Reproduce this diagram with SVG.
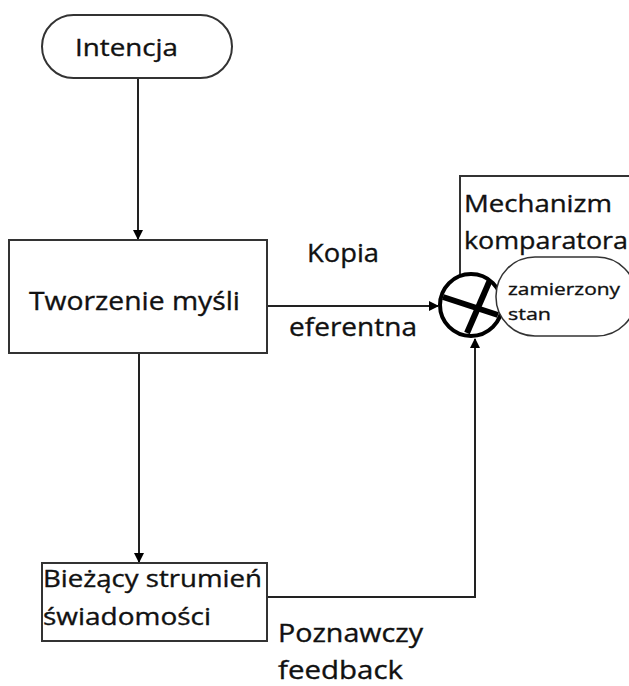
<svg xmlns="http://www.w3.org/2000/svg" width="629" height="686" viewBox="0 0 629 686">
<defs>
<style>
.t{font-family:"Open Sans","Liberation Sans",sans-serif;fill:#111;stroke:#111;stroke-width:0.35;}
.box{fill:#fff;stroke:#333;stroke-width:2;}
.ln{fill:none;stroke:#222;stroke-width:2;}
</style>
<marker id="ah" viewBox="0 0 10 10" refX="9" refY="5" markerWidth="10" markerHeight="10" markerUnits="userSpaceOnUse" orient="auto">
<path d="M0,0 L10,5 L0,10 z" fill="#000"/>
</marker>
</defs>
<rect width="629" height="686" fill="#fff"/>
<g id="connectors">
<line class="ln" x1="138" y1="79" x2="138" y2="239" marker-end="url(#ah)"/>
<line class="ln" x1="139" y1="353" x2="139" y2="562" marker-end="url(#ah)"/>
<line class="ln" x1="267" y1="306" x2="438" y2="306" marker-end="url(#ah)"/>
<polyline class="ln" points="267,597 475,597 475,339" marker-end="url(#ah)"/>
</g>
<g id="intencja">
<rect class="box" x="42" y="15" width="190" height="63" rx="31.5"/>
<text class="t" x="75" y="56" font-size="24" textLength="103" lengthAdjust="spacingAndGlyphs">Intencja</text>
</g>
<g id="tworzenie">
<rect class="box" x="9" y="240" width="258" height="113"/>
<text class="t" x="29" y="310" font-size="26" textLength="211" lengthAdjust="spacingAndGlyphs">Tworzenie myśli</text>
</g>
<g id="kopia-label">
<text class="t" x="307" y="262" font-size="26" textLength="72" lengthAdjust="spacingAndGlyphs">Kopia</text>
<text class="t" x="289" y="336" font-size="26" textLength="128" lengthAdjust="spacingAndGlyphs">eferentna</text>
</g>
<g id="mechanizm">
<rect class="box" x="460" y="176" width="200" height="120"/>
<text class="t" x="464" y="212" font-size="24" textLength="148" lengthAdjust="spacingAndGlyphs">Mechanizm</text>
<text class="t" x="464" y="249" font-size="24" textLength="164" lengthAdjust="spacingAndGlyphs">komparatora</text>
</g>
<g id="komparator">
<circle cx="471" cy="305" r="31" fill="#fff" stroke="#000" stroke-width="4"/>
<line x1="490" y1="280" x2="467" y2="333" stroke="#000" stroke-width="6"/>
<line x1="443" y1="297" x2="498" y2="315" stroke="#000" stroke-width="6"/>
</g>
<g id="zamierzony">
<rect x="496" y="257" width="140" height="79" rx="39" fill="#fff" stroke="#333" stroke-width="1.5"/>
<text class="t" x="508" y="295" font-size="17" textLength="112" lengthAdjust="spacingAndGlyphs">zamierzony</text>
<text class="t" x="508" y="320" font-size="17" textLength="43" lengthAdjust="spacingAndGlyphs">stan</text>
</g>
<g id="biezacy">
<rect class="box" x="42" y="563" width="225" height="78"/>
<text class="t" x="43" y="587" font-size="23" textLength="219" lengthAdjust="spacingAndGlyphs">Bieżący strumień</text>
<text class="t" x="43" y="625" font-size="23" textLength="168" lengthAdjust="spacingAndGlyphs">świadomości</text>
</g>
<g id="feedback-label">
<text class="t" x="278" y="642" font-size="25" textLength="145" lengthAdjust="spacingAndGlyphs">Poznawczy</text>
<text class="t" x="278" y="679" font-size="25" textLength="125" lengthAdjust="spacingAndGlyphs">feedback</text>
</g>
</svg>
